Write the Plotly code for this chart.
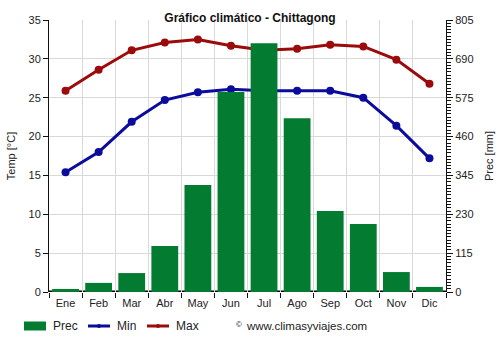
import plotly.graph_objects as go

months = ["Ene", "Feb", "Mar", "Abr", "May", "Jun", "Jul", "Ago", "Sep", "Oct", "Nov", "Dic"]
prec = [9, 27, 56, 136, 317, 592, 736, 514, 240, 201, 59, 15]
tmin = [15.4, 18.0, 21.9, 24.7, 25.7, 26.1, 25.9, 25.9, 25.9, 25.0, 21.4, 17.2]
tmax = [25.9, 28.6, 31.1, 32.1, 32.5, 31.7, 31.1, 31.3, 31.8, 31.6, 29.9, 26.8]
prec_ticks = [0, 115, 230, 345, 460, 575, 690, 805]
temp_ticks = [0, 5, 10, 15, 20, 25, 30, 35]

GREEN = "#037b30"
BLUE = "#0b0b9c"
RED = "#9c0b0b"
FONT = "Liberation Sans, Arial, sans-serif"

L, R, T, B = 49, 54, 20, 58
W, H = 500, 350
PW, PH = W - L - R, H - T - B


def px(x):
    return (x - L) / PW


def py(y):
    return (H - B - y) / PH


fig = go.Figure()
fig.add_trace(go.Bar(x=months, y=prec, name="Prec", marker=dict(color=GREEN, line=dict(width=0)),
                     yaxis="y2"))
fig.add_trace(go.Scatter(x=months, y=tmin, name="Min", mode="lines+markers",
                         line=dict(color=BLUE, width=3), marker=dict(size=8, color=BLUE)))
fig.add_trace(go.Scatter(x=months, y=tmax, name="Max", mode="lines+markers",
                         line=dict(color=RED, width=3), marker=dict(size=8, color=RED)))

fig.update_layout(
    width=W, height=H,
    margin=dict(l=L, r=R, t=T, b=B, autoexpand=False),
    paper_bgcolor="white", plot_bgcolor="white",
    font=dict(family=FONT, size=11, color="#222"),
    title=dict(text="<b>Gráfico climático - Chittagong</b>", x=0.5, xanchor="center",
               y=1 - 18 / H, yanchor="middle", font=dict(size=12, color="#111")),
    bargap=0.19,
    showlegend=False,
    xaxis=dict(type="category", tickson="boundaries", showgrid=True, gridcolor="#d9d9d9",
               ticks="outside", ticklen=5, tickcolor="#111", showline=False,
               tickfont=dict(size=11), range=[-0.5, 11.5], ticklabelstandoff=3),
    yaxis=dict(range=[0, 35], tickvals=temp_ticks, showgrid=True, gridcolor="#d9d9d9",
               showline=True, linecolor="#111", linewidth=1, ticks="outside", ticklen=5,
               tickcolor="#111", zeroline=False,
               title=dict(text="Temp [°C]", font=dict(size=11), standoff=10)),
    yaxis2=dict(range=[0, 805], tickvals=prec_ticks, overlaying="y", side="right",
                showgrid=False, showline=True, linecolor="#111", linewidth=1,
                ticks="outside", ticklen=6, tickcolor="#111", zeroline=False,
                minor=dict(dtick=115 / 12, ticks="outside", ticklen=4, tickcolor="#111",
                           showgrid=False),
                title=dict(text="Prec [mm]", font=dict(size=11), standoff=12)),
)

fig.add_shape(type="line", xref="paper", yref="y", x0=0, x1=1, y0=0, y1=0,
              line=dict(color="#000", width=3), layer="below")

# manual legend
ly = 326
fig.add_shape(type="rect", xref="paper", yref="paper", x0=px(24), x1=px(46),
              y0=py(ly - 4.5), y1=py(ly + 4.5), fillcolor=GREEN, line=dict(width=0))
for x0, col in [(88, BLUE), (147, RED)]:
    fig.add_shape(type="line", xref="paper", yref="paper", x0=px(x0), x1=px(x0 + 22),
                  y0=py(ly), y1=py(ly), line=dict(color=col, width=3))
    fig.add_shape(type="circle", xref="paper", yref="paper", x0=px(x0 + 9), x1=px(x0 + 13),
                  y0=py(ly - 2), y1=py(ly + 2), fillcolor=col, line=dict(width=0))
for x0, txt in [(51, "Prec"), (115, "Min"), (174, "Max")]:
    fig.add_annotation(text=txt, xref="paper", yref="paper", x=px(x0), y=py(ly),
                       xanchor="left", yanchor="middle", showarrow=False,
                       font=dict(size=12, color="#222"))

fig.add_annotation(text="©", xref="paper", yref="paper", x=px(234), y=py(ly - 2),
                   xanchor="left", yanchor="middle", showarrow=False,
                   font=dict(size=8, color="#111"))
fig.add_annotation(text="www.climasyviajes.com", xref="paper", yref="paper", x=px(244), y=py(ly),
                   xanchor="left", yanchor="middle", showarrow=False,
                   font=dict(size=11.5, color="#222"))

fig.write_html("out.html")
